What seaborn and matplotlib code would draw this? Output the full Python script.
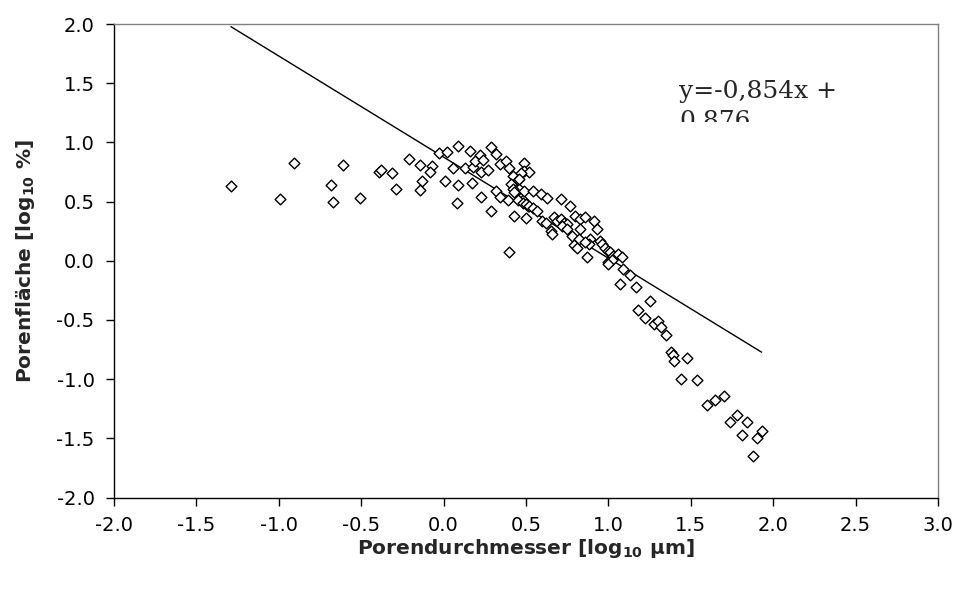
import numpy as np
import pandas as pd
import matplotlib
matplotlib.use("Agg")
import matplotlib.pyplot as plt
import seaborn as sns
from matplotlib.transforms import Bbox, TransformedBbox

# Pore diameter (log10 µm) and pore area share (log10 %)
diameter_log = [
    -1.29, -0.99, -0.91, -0.68, -0.67, -0.61, -0.51, -0.39, -0.38, -0.31,
    -0.29, -0.21, -0.14, -0.13, -0.14, -0.07, -0.08, -0.03, 0.01, 0.02,
    0.06, 0.09, 0.09, 0.08, 0.16, 0.13, 0.17, 0.18, 0.19, 0.22,
    0.24, 0.23, 0.27, 0.23, 0.29, 0.32, 0.34, 0.29, 0.38, 0.40,
    0.32, 0.34, 0.39, 0.42, 0.45, 0.46, 0.41, 0.49, 0.49, 0.52,
    0.47, 0.46, 0.40, 0.43, 0.50, 0.48, 0.51, 0.45, 0.42, 0.43,
    0.49, 0.54, 0.59, 0.63, 0.71, 0.77, 0.48, 0.50, 0.52, 0.54,
    0.57, 0.60, 0.62, 0.67, 0.69, 0.71, 0.73, 0.75, 0.65, 0.66,
    0.80, 0.83, 0.86, 0.91, 0.93, 0.72, 0.75, 0.83, 0.78, 0.82,
    0.89, 0.95, 0.88, 0.79, 0.81, 0.86, 0.87, 0.96, 0.98, 1.00,
    1.01, 1.03, 1.06, 1.08, 1.00, 1.02, 1.00, 1.09, 1.13, 1.07,
    1.17, 1.25, 1.18, 1.22, 1.28, 1.30, 1.32, 1.35, 1.38, 1.39,
    1.40, 1.48, 1.44, 1.54, 1.60, 1.65, 1.70, 1.74, 1.78, 1.84,
    1.81, 1.90, 1.93, 1.88,
]
area_log = [
    0.63, 0.52, 0.83, 0.64, 0.50, 0.81, 0.53, 0.75, 0.77, 0.74,
    0.61, 0.86, 0.81, 0.67, 0.60, 0.80, 0.75, 0.91, 0.67, 0.92,
    0.78, 0.97, 0.64, 0.49, 0.93, 0.78, 0.66, 0.79, 0.84, 0.89,
    0.85, 0.75, 0.77, 0.54, 0.96, 0.90, 0.82, 0.42, 0.84, 0.78,
    0.59, 0.54, 0.51, 0.72, 0.68, 0.61, 0.65, 0.83, 0.76, 0.75,
    0.74, 0.69, 0.07, 0.38, 0.36, 0.51, 0.46, 0.51, 0.61, 0.58,
    0.59, 0.59, 0.56, 0.53, 0.52, 0.46, 0.49, 0.48, 0.46, 0.45,
    0.42, 0.34, 0.32, 0.37, 0.34, 0.35, 0.32, 0.31, 0.25, 0.23,
    0.38, 0.35, 0.37, 0.34, 0.27, 0.29, 0.27, 0.27, 0.21, 0.18,
    0.18, 0.17, 0.14, 0.13, 0.11, 0.16, 0.03, 0.14, 0.11, 0.08,
    0.07, 0.04, 0.06, 0.03, -0.01, 0.01, -0.03, -0.07, -0.12, -0.20,
    -0.22, -0.34, -0.42, -0.48, -0.53, -0.51, -0.56, -0.63, -0.77, -0.80,
    -0.85, -0.82, -1.00, -1.01, -1.22, -1.18, -1.14, -1.36, -1.30, -1.36,
    -1.47, -1.50, -1.44, -1.65,
]

# Linear fit as stated in the equation label
slope = -0.854
intercept = 0.876
equation_text = "y=-0,854x +\n0,876"

x_ticks = [-2.0, -1.5, -1.0, -0.5, 0.0, 0.5, 1.0, 1.5, 2.0, 2.5, 3.0]
y_ticks = [-2.0, -1.5, -1.0, -0.5, 0.0, 0.5, 1.0, 1.5, 2.0]

df = pd.DataFrame({"durchmesser": diameter_log, "flaeche": area_log})

sns.set_style("white")
plt.rcParams["font.family"] = ["DejaVu Sans"]
plt.rcParams["axes.unicode_minus"] = False
plt.rcParams["mathtext.default"] = "regular"

fig = plt.figure(figsize=(9.56, 5.92), dpi=100)
ax = fig.add_axes([0.1192, 0.1596, 0.8619, 0.7998])

# Regression line across the measured diameter range
line_x = np.array([min(diameter_log), max(diameter_log)])
line_y = slope * line_x + intercept
sns.lineplot(x=line_x, y=line_y, color="black", linewidth=1.0, ax=ax,
             zorder=2, legend=False)

sns.scatterplot(data=df, x="durchmesser", y="flaeche", marker="D", s=30,
                color="white", edgecolor="black", linewidth=1.0, ax=ax,
                zorder=3, legend=False)

ax.set_xlim(-2.0, 3.0)
ax.set_ylim(-2.0, 2.0)
ax.set_xticks(x_ticks)
ax.set_yticks(y_ticks)
ax.set_xticklabels([f"{v:.1f}" for v in x_ticks])
ax.set_yticklabels([f"{v:.1f}" for v in y_ticks])

ax.tick_params(axis="both", which="major", direction="out", length=6,
               width=1, color="black", labelsize=14, labelcolor="black")
ax.tick_params(axis="x", bottom=True, top=False, pad=7)
ax.tick_params(axis="y", left=True, right=False, pad=8)

for side in ("left", "bottom"):
    ax.spines[side].set_color("black")
    ax.spines[side].set_linewidth(1.0)
for side in ("top", "right"):
    ax.spines[side].set_color("#808080")
    ax.spines[side].set_linewidth(1.0)
    ax.spines[side].set_visible(True)

ax.set_xlabel(r"Porendurchmesser [log$_{\mathbf{10}}$ µm]", fontsize=14.5,
              fontweight="bold", labelpad=2)
ax.set_ylabel(r"Porenfläche [log$_{\mathbf{10}}$ %]", fontsize=14.5,
              fontweight="bold", labelpad=14)

# Equation box: the frame cuts the second line off below its top part
eq = ax.text(1.43, 1.12, equation_text, family="DejaVu Serif", fontsize=18,
             ha="left", va="baseline", linespacing=1.4, zorder=4)
eq.set_clip_box(TransformedBbox(Bbox([[0.6, 0.7937], [1.0, 1.0]]),
                                ax.transAxes))
eq.set_clip_on(True)

fig.savefig("out.png", dpi=100)
